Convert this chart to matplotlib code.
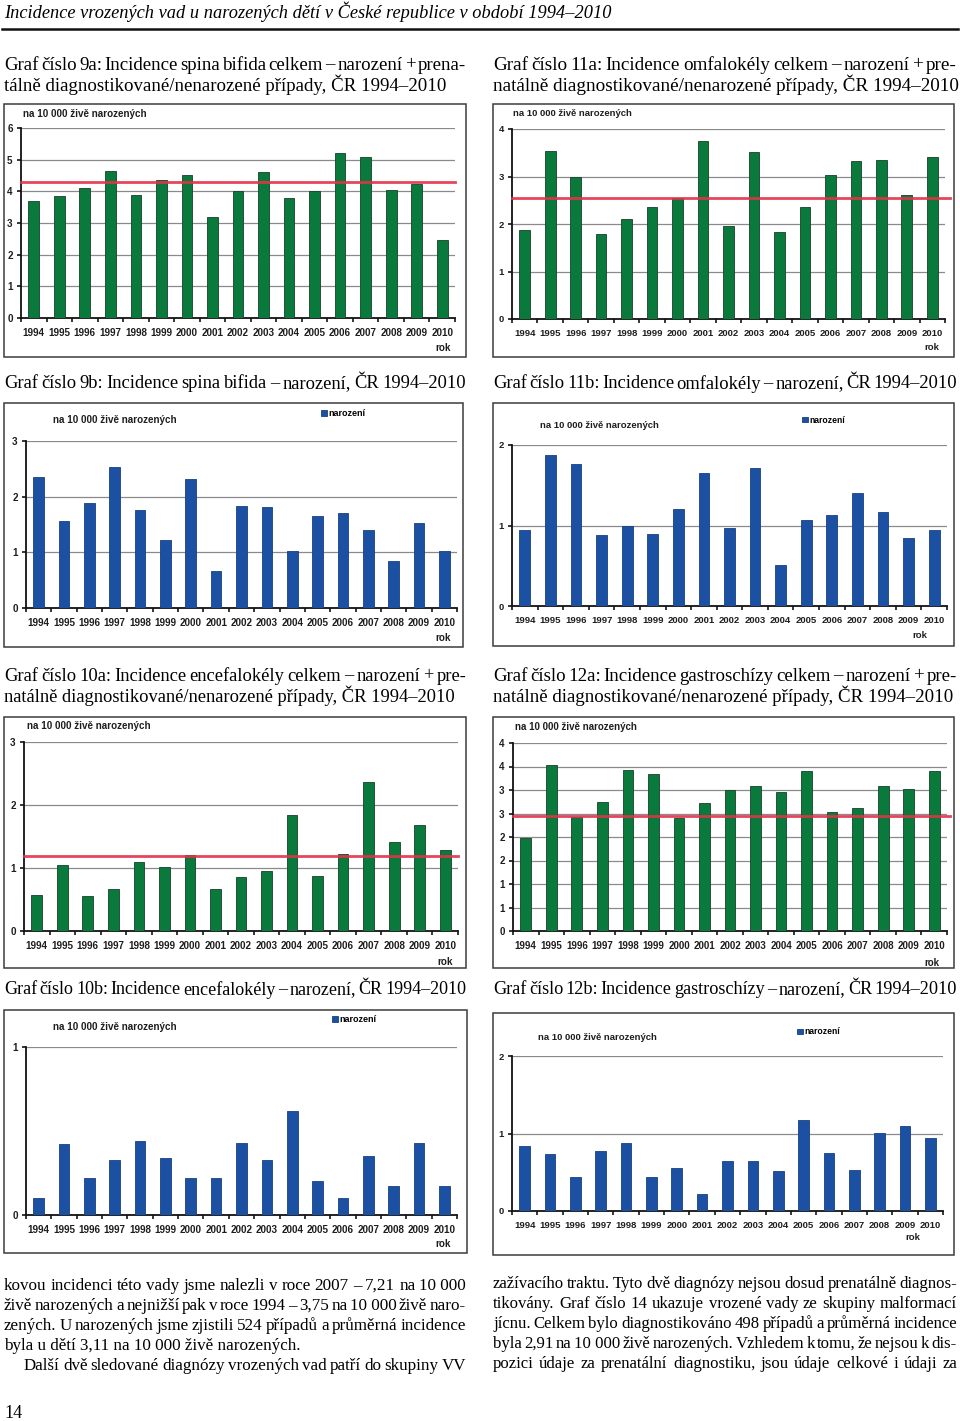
import numpy as np
import matplotlib
matplotlib.use('Agg')
import matplotlib.pyplot as plt
from matplotlib.patches import Rectangle
from matplotlib.ticker import FuncFormatter

# data (per 10 000 live births), 1994-2010
years = [str(y) for y in range(1994, 2011)]

spina_celkem = [3.68, 3.85, 4.10, 4.65, 3.87, 4.37, 4.52, 3.20, 4.00, 4.60,
                3.80, 4.01, 5.20, 5.07, 4.03, 4.22, 2.47]
spina_celkem_avg = 4.30
omfal_celkem = [1.88, 3.54, 2.99, 1.78, 2.10, 2.35, 2.54, 3.75, 1.95, 3.52,
                1.84, 2.35, 3.03, 3.32, 3.35, 2.62, 3.42]
omfal_celkem_avg = 2.55
spina_naroz = [2.35, 1.56, 1.88, 2.54, 1.76, 1.23, 2.31, 0.66, 1.83, 1.81,
               1.03, 1.66, 1.70, 1.40, 0.84, 1.52, 1.03]
omfal_naroz = [0.94, 1.87, 1.76, 0.88, 1.00, 0.89, 1.21, 1.65, 0.97, 1.71,
               0.51, 1.07, 1.13, 1.40, 1.17, 0.84, 0.94]
encef_celkem = [0.57, 1.04, 0.56, 0.67, 1.10, 1.01, 1.21, 0.66, 0.86, 0.96,
                1.84, 0.88, 1.23, 2.36, 1.42, 1.69, 1.28]
encef_celkem_avg = 1.19
gastro_celkem = [1.98, 3.54, 2.43, 2.75, 3.42, 3.35, 2.41, 2.73, 3.01, 3.08,
                 2.96, 3.41, 2.54, 2.61, 3.08, 3.03, 3.41]
gastro_celkem_avg = 2.45
encef_naroz = [0.10, 0.42, 0.22, 0.33, 0.44, 0.34, 0.22, 0.22, 0.43, 0.33,
               0.62, 0.20, 0.10, 0.35, 0.17, 0.43, 0.17]
gastro_naroz = [0.84, 0.73, 0.44, 0.77, 0.88, 0.44, 0.55, 0.22, 0.65, 0.64,
                0.51, 1.17, 0.75, 0.53, 1.01, 1.10, 0.94]

header = 'Incidence vrozených vad u narozených dětí v České republice v období 1994–2010'
title_9a = ['Graf číslo 9a: Incidence spina bifida celkem – narození + prena-',
            'tálně diagnostikované/nenarozené případy, ČR 1994–2010']
title_11a = ['Graf číslo 11a: Incidence omfalokély celkem – narození + pre-',
             'natálně diagnostikované/nenarozené případy, ČR 1994–2010']
title_9b = ['Graf číslo 9b: Incidence spina bifida – narození, ČR 1994–2010']
title_11b = ['Graf číslo 11b: Incidence omfalokély – narození, ČR 1994–2010']
title_10a = ['Graf číslo 10a: Incidence encefalokély celkem – narození + pre-',
             'natálně diagnostikované/nenarozené případy, ČR 1994–2010']
title_12a = ['Graf číslo 12a: Incidence gastroschízy celkem – narození + pre-',
             'natálně diagnostikované/nenarozené případy, ČR 1994–2010']
title_10b = ['Graf číslo 10b: Incidence encefalokély – narození, ČR 1994–2010']
title_12b = ['Graf číslo 12b: Incidence gastroschízy – narození, ČR 1994–2010']

text_left = ['kovou incidenci této vady jsme nalezli v roce 2007 – 7,21 na 10\u00a0000',
             'živě narozených a nejnižší pak v roce 1994 – 3,75 na 10\u00a0000 živě naro-',
             'zených. U narozených jsme zjistili 524 případů a průměrná incidence',
             'byla u dětí 3,11 na 10\u00a0000 živě narozených.',
             'Další dvě sledované diagnózy vrozených vad patří do skupiny VV']
text_right = ['zažívacího traktu. Tyto dvě diagnózy nejsou dosud prenatálně diagnos-',
              'tikovány. Graf číslo 14 ukazuje vrozené vady ze skupiny malformací',
              'jícnu. Celkem bylo diagnostikováno 498 případů a průměrná incidence',
              'byla 2,91 na 10\u00a0000 živě narozených. Vzhledem k tomu, že nejsou k dis-',
              'pozici údaje za prenatální diagnostiku, jsou údaje celkové i údaji za']

GREEN = '#0a7a3c'
GREEN_EDGE = '#17402a'
BLUE = '#1b50a2'
BLUE_EDGE = '#173f80'
RED = '#e2334a'
SERIF = 'Liberation Serif'
SANS = 'Liberation Sans'

W, H = 960, 1421
fig = plt.figure(figsize=(9.6, 14.21), dpi=100)
renderer = fig.canvas.get_renderer()


def fx(x):
    return x / W


def fy(y):
    return 1 - y / H


def fit_size(s, avail, size):
    # largest size (<= size) at which the words fit with a tight word gap
    words = s.split(' ')
    while True:
        widths = []
        for w in words:
            t = fig.text(0, 0, w, fontsize=size, family=SERIF)
            widths.append(t.get_window_extent(renderer).width)
            t.remove()
        space = size * 100 / 72 * 0.25
        if sum(widths) + (len(words) - 1) * space * 0.5 <= avail:
            return size
        size *= 0.985


def text_line(s, x0, x1, y, size, justify=True, indent=0):
    if not justify:
        fig.text(fx(x0 + indent), fy(y), s, fontsize=size, family=SERIF, va='center')
        return
    words = s.split(' ')
    texts = [fig.text(0, fy(y), w, fontsize=size, family=SERIF, va='center')
             for w in words]
    widths = [t.get_window_extent(renderer).width for t in texts]
    avail = x1 - x0 - indent
    gap = (avail - sum(widths)) / max(len(words) - 1, 1)
    x = x0 + indent
    for t, w in zip(texts, widths):
        t.set_x(fx(x))
        x += w + gap


def title(lines, x0, x1, y, size=14.2):
    size = fit_size(lines[0], x1 - x0, size)
    for i, s in enumerate(lines):
        last = i == len(lines) - 1 and len(lines) > 1
        text_line(s, x0, x1, y + 20 * i, size, justify=not last)


def chart(box, plot, values, ymax, step, color, edge, fs, label_xy, rok_xy,
          avg=None, avg_end=16.5, legend_xy=None):
    bx0, by0, bx1, by1 = box
    fig.add_artist(Rectangle((fx(bx0), fy(by1)), (bx1 - bx0) / W, (by1 - by0) / H,
                             transform=fig.transFigure, fill=False, ec='#3c3c3c', lw=1.1))
    l, t, r, b = plot
    ax = fig.add_axes([fx(l), fy(b), (r - l) / W, (b - t) / H])
    xs = np.arange(len(values))
    ax.bar(xs, values, width=0.42, color=color, edgecolor=edge, lw=0.6, zorder=3,
           label='narození')
    ax.set_xlim(-0.5, len(values) - 0.5)
    ax.set_ylim(0, ymax)
    yt = np.arange(0, ymax + step / 2, step)
    ax.set_yticks(yt)
    ax.yaxis.set_major_formatter(FuncFormatter(lambda v, p: str(int(np.floor(v + 0.5)))))
    for v in yt[1:]:
        ax.axhline(v, color='#8a8a8a', lw=0.9, zorder=1)
    ax.set_xticks(xs, years)
    ax.set_xticks(np.arange(-0.5, len(values)), minor=True)
    ax.tick_params(axis='x', which='major', length=0, pad=7.5)
    ax.tick_params(axis='x', which='minor', length=3, width=1.1, direction='out')
    ax.tick_params(axis='y', length=3, width=1.1, pad=3)
    for lab in ax.get_xticklabels() + ax.get_yticklabels():
        lab.set_fontsize(fs)
        lab.set_fontweight('bold')
        lab.set_family(SANS)
        lab.set_color('#1e1e1e')
    for s in ['top', 'right']:
        ax.spines[s].set_visible(False)
    for s in ['left', 'bottom']:
        ax.spines[s].set_linewidth(1.3)
        ax.spines[s].set_color('#111111')
    ax.patch.set_alpha(0)
    if avg is not None:
        ax.plot([-0.5, avg_end], [avg, avg], color=RED, lw=2, alpha=0.9, zorder=4,
                clip_on=False)
    fig.text(fx(label_xy[0]), fy(label_xy[1]), 'na 10 000 živě narozených', fontsize=fs,
             fontweight='bold', family=SANS, va='center', color='#1e1e1e')
    fig.text(fx(rok_xy[0]), fy(rok_xy[1]), 'rok', fontsize=fs, fontweight='bold',
             family=SANS, va='center', ha='center', color='#1e1e1e')
    if legend_xy is not None:
        ax.legend(loc='center left', bbox_to_anchor=(fx(legend_xy[0]), fy(legend_xy[1])),
                  bbox_transform=fig.transFigure, frameon=False, handlelength=0.65,
                  handleheight=0.65, handletextpad=0.2, borderpad=0, borderaxespad=0,
                  prop={'family': SANS, 'size': fs - 0.6, 'weight': 'bold'})
    return ax


# header
fig.text(fx(4), fy(12), header, fontsize=13.2, family=SERIF, style='italic', va='center')
fig.add_artist(plt.Line2D([fx(2), fx(958)], [fy(29), fy(29)], color='#111111', lw=1.8,
                          transform=fig.transFigure))

# row 1
title(title_9a, 4, 466, 65)
title(title_11a, 493, 957, 65)
chart((4, 104, 466, 357), (21, 128, 455, 318), spina_celkem, 6, 1, GREEN, GREEN_EDGE, 7.1,
      (23, 114), (443, 348), avg=spina_celkem_avg)
chart((493, 104, 954, 357), (512, 129, 945, 319), omfal_celkem, 4, 1, GREEN, GREEN_EDGE, 6.8,
      (513, 114), (932, 348), avg=omfal_celkem_avg, avg_end=16.7)

# row 2
title(title_9b, 4, 466, 384)
title(title_11b, 493, 957, 384)
chart((4, 403, 463, 647), (26, 441, 457, 608), spina_naroz, 3, 1, BLUE, BLUE_EDGE, 7.1,
      (53, 420), (443, 638), legend_xy=(321, 414))
chart((493, 403, 954, 646), (512, 445, 947, 606), omfal_naroz, 2, 1, BLUE, BLUE_EDGE, 6.8,
      (540, 426), (920, 635), legend_xy=(802, 420))

# row 3
title(title_10a, 4, 466, 676)
title(title_12a, 493, 957, 676)
chart((4, 717, 466, 968), (24, 742, 458, 931), encef_celkem, 3, 1, GREEN, GREEN_EDGE, 7.1,
      (27, 726), (445, 962), avg=encef_celkem_avg)
chart((493, 717, 954, 968), (513, 743, 947, 931), gastro_celkem, 4, 0.5, GREEN, GREEN_EDGE, 7.0,
      (515, 727), (932, 963), avg=gastro_celkem_avg, avg_end=16.6)

# row 4
title(title_10b, 4, 466, 990)
title(title_12b, 493, 957, 990)
chart((4, 1010, 467, 1253), (26, 1047, 457, 1215), encef_naroz, 1, 1, BLUE, BLUE_EDGE, 7.1,
      (53, 1027), (443, 1244), legend_xy=(332, 1020))
chart((493, 1013, 954, 1255), (512, 1056, 943, 1211), gastro_naroz, 2, 1, BLUE, BLUE_EDGE, 6.8,
      (538, 1038), (913, 1238), legend_xy=(797, 1032))

# body text
left_size = fit_size(text_left[1], 462, 13.2)
for i, s in enumerate(text_left):
    indent = 20 if i == 4 else 0
    text_line(s, 4, 466, 1286 + 20 * i, left_size, justify=(i != 3), indent=indent)
right_size = fit_size(text_right[3], 464, 13.2)
for i, s in enumerate(text_right):
    text_line(s, 493, 957, 1284 + 20 * i, right_size)

fig.text(fx(4), fy(1413), '14', fontsize=13, family=SERIF, va='center')

fig.savefig('out.png', dpi=100)
